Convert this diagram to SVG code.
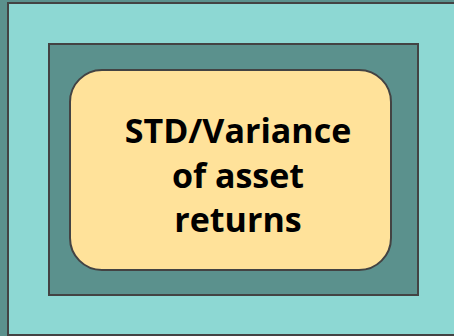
<svg xmlns="http://www.w3.org/2000/svg" width="454" height="336" viewBox="0 0 454 336">
  <style>
    .frame { stroke: #434343; stroke-width: 2; }
    .label { font-family: "Open Sans", "Liberation Sans", sans-serif; font-weight: 700; font-size: 34px; fill: #000; text-anchor: middle; }
  </style>
  <rect x="0" y="0" width="454" height="336" fill="#5b918d"/>
  <g id="outer">
    <rect class="frame" x="8" y="3" width="460" height="332" fill="#8dd8d3"/>
  </g>
  <g id="middle">
    <rect class="frame" x="49" y="44" width="369" height="251" fill="#5b918d"/>
  </g>
  <g id="core">
    <rect class="frame" x="70" y="70" width="321" height="200" rx="32" ry="32" fill="#ffe29a"/>
    <text class="label" x="238" y="143">STD/Variance</text>
    <text class="label" x="238" y="188">of asset</text>
    <text class="label" x="238" y="232">returns</text>
  </g>
  <g id="connectors"/>
</svg>
